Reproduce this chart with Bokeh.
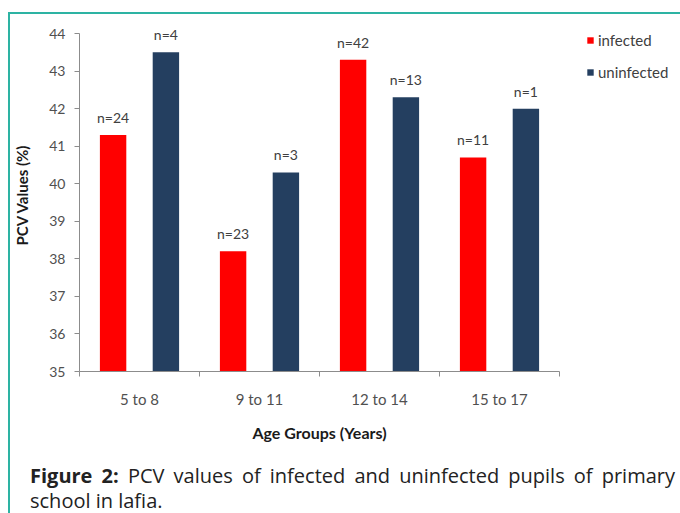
from bokeh.plotting import figure
from bokeh.models import (ColumnDataSource, FixedTicker, Legend, LegendItem,
                          LabelSet, Range1d, Div)
from bokeh.layouts import column
from bokeh.core.properties import value
from bokeh.embed import file_html
from bokeh.resources import INLINE

categories = ["5 to 8", "9 to 11", "12 to 14", "15 to 17"]
infected = [41.3, 38.2, 43.3, 40.7]
uninfected = [43.5, 40.3, 42.3, 42.0]
infected_n = ["n=24", "n=23", "n=42", "n=11"]
uninfected_n = ["n=4", "n=3", "n=13", "n=1"]
y_ticks = [35, 36, 37, 38, 39, 40, 41, 42, 43, 44]

RED = "#FF0000"
NAVY = "#243F60"
TEAL = "#2DB3A3"
FONT = "Lato"

centers = [i + 0.5 for i in range(len(categories))]
off = 0.22
src_inf = ColumnDataSource(dict(x=[c - off for c in centers], top=infected, lab=infected_n))
src_un = ColumnDataSource(dict(x=[c + off for c in centers], top=uninfected, lab=uninfected_n))

p = figure(frame_width=480, frame_height=353, output_backend="svg", toolbar_location=None,
           x_range=Range1d(0, len(categories)), y_range=Range1d(y_ticks[0], y_ticks[-1] + 0.4),
           min_border_left=69, min_border_right=121, min_border_top=4, min_border_bottom=87)
p.outline_line_color = None
p.xgrid.visible = False
p.ygrid.visible = False

r1 = p.vbar(x="x", top="top", bottom=y_ticks[0], width=0.22, source=src_inf,
            fill_color=RED, line_color=None)
r2 = p.vbar(x="x", top="top", bottom=y_ticks[0], width=0.22, source=src_un,
            fill_color=NAVY, line_color=None)

for s in (src_inf, src_un):
    p.add_layout(LabelSet(x="x", y="top", text="lab", source=s, y_offset=12,
                          text_align="center", text_baseline="alphabetic",
                          text_font=value(FONT), text_font_size="14px", text_color="#404040"))

AX = "#8C8C8C"
ya = p.yaxis[0]
ya.ticker = FixedTicker(ticks=y_ticks)
ya.bounds = (y_ticks[0], y_ticks[-1])
ya.axis_line_color = AX
ya.major_tick_line_color = AX
ya.major_tick_out = 5
ya.major_tick_in = 0
ya.minor_tick_line_color = None
ya.major_label_text_font = FONT
ya.major_label_text_font_size = "14px"
ya.major_label_text_color = "#505050"
ya.major_label_standoff = 9
ya.axis_label = "PCV Values (%)"
ya.axis_label_text_font = FONT
ya.axis_label_text_font_size = "15px"
ya.axis_label_text_font_style = "bold"
ya.axis_label_text_color = "#1A1A1A"
ya.axis_label_standoff = 15

xa = p.xaxis[0]
xa.ticker = FixedTicker(ticks=centers, minor_ticks=list(range(len(categories) + 1)))
xa.major_label_overrides = {c: lab for c, lab in zip(centers, categories)}
xa.axis_line_color = AX
xa.major_tick_line_color = None
xa.minor_tick_line_color = AX
xa.minor_tick_out = 5
xa.minor_tick_in = 0
xa.major_label_text_font = FONT
xa.major_label_text_font_size = "15px"
xa.major_label_text_color = "#505050"
xa.major_label_standoff = 12
xa.axis_label = "Age Groups (Years)"
xa.axis_label_text_font = FONT
xa.axis_label_text_font_size = "16px"
xa.axis_label_text_font_style = "bold"
xa.axis_label_text_color = "#1A1A1A"
xa.axis_label_standoff = 12

legend = Legend(items=[LegendItem(label="infected", renderers=[r1]),
                       LegendItem(label="uninfected", renderers=[r2])],
                location=(27, 289), glyph_width=8, glyph_height=8,
                label_height=20, spacing=12, padding=0, margin=0,
                label_standoff=4, border_line_color=None, background_fill_alpha=0,
                label_text_font=FONT, label_text_font_size="15px",
                label_text_color="#404040")
p.add_layout(legend, "right")

caption = Div(
    text=('<div style="margin-left:15px;width:645px;text-align:justify;'
          'font-family:\'Open Sans\';font-size:20px;line-height:25px;color:#222222;">'
          '<b>Figure 2:</b> <span>PCV values of infected and uninfected pupils of primary</span> '
          '<span>school in lafia.</span></div>'),
    width=670, height=55)

layout = column(p, caption, margin=(12, 0, 0, 8),
                styles={"border-left": f"2px solid {TEAL}", "border-top": f"2px solid {TEAL}"})

open("out.html", "w").write(file_html(layout, INLINE))
